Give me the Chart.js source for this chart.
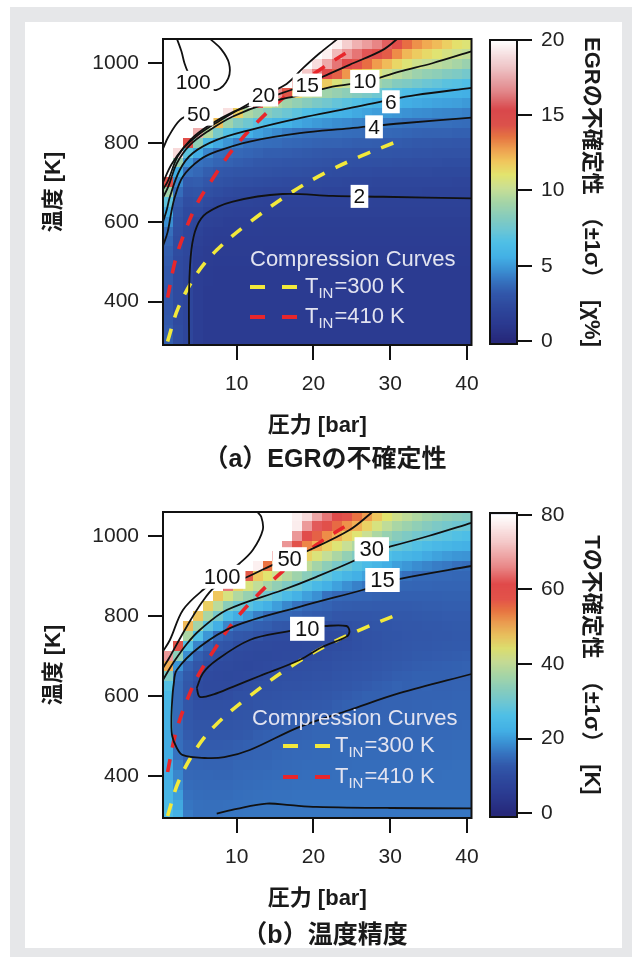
<!DOCTYPE html>
<html><head><meta charset="utf-8">
<script src="https://cdn.jsdelivr.net/npm/chart.js@4/dist/chart.umd.min.js"></script>
<style>
html,body{margin:0;padding:0;background:#fff;}
#page{position:relative;width:638px;height:961px;overflow:hidden;background:#fff;}
#frame{position:absolute;left:10px;top:7px;width:622px;height:950px;background:#e6e7e9;}
#inner{position:absolute;left:25px;top:22px;width:597px;height:926px;background:#fff;}
canvas{position:absolute;}
.cap{position:absolute;font-family:"Liberation Sans","Noto Sans CJK JP",sans-serif;font-weight:bold;font-size:25px;color:#1a1a1a;white-space:nowrap;transform:translate(-50%,-50%);line-height:1;}
</style></head>
<body><div id="page"><div id="frame"></div><div id="inner"></div>
<canvas id="mainA" width="638" height="470" style="left:0;top:0"></canvas>
<canvas id="barA" width="168" height="470" style="left:470px;top:0"></canvas>
<canvas id="mainB" width="638" height="470" style="left:0;top:473px"></canvas>
<canvas id="barB" width="168" height="470" style="left:470px;top:473px"></canvas>
<div class="cap" style="left:325px;top:458px">（a）EGRの不確定性</div>
<div class="cap" style="left:325px;top:934px">（b）温度精度</div>
</div>
<script>
// ---------------- DATA ----------------
// pressure column centres [bar]
const pressureCenters = [1.05,2.35,3.64,4.94,6.24,7.53,8.83,10.13,11.42,12.72,14.02,15.31,16.61,17.91,19.2,20.5,21.8,23.09,24.39,25.69,26.98,28.28,29.58,30.87,32.17,33.47,34.76,36.06,37.36,38.65,39.95];
// temperature row centres [K], top to bottom
const tempCenters = [1049,1024,999,974,949,924,900,875,850,825,800,775,750,726,701,676,651,626,601,577,552,527,502,477,452,428,403,378,353,328,303];
const pressureTicks = [10,20,30,40];
const tempTicks = [400,600,800,1000];
const egrBarTicks = [0,5,10,15,20];
const tempBarTicks = [0,20,40,60,80];

// EGR uncertainty (±1σ) [χ%], one list per pressure column, rows top->bottom
const egrUncertainty = [
[25,25,25,25,25,25,25,25,25,25,25,25,25,25,14.7,9.1,7.0,5.5,4.7,3.9,3.6,3.4,3.3,3.2,3.2,3.1,3.1,3.1,3.2,3.3,3.4],
[25,25,25,25,25,25,25,25,25,25,25,18.8,8.9,5.5,4.6,3.8,3.3,3.0,2.8,2.6,2.5,2.5,2.4,2.4,2.4,2.4,2.4,2.4,2.4,2.5,2.5],
[25,25,25,25,25,25,25,25,25,25,15,7.0,5.0,3.9,3.3,2.9,2.6,2.4,2.3,2.2,2.2,2.2,2.1,2.1,2.1,2.1,2.1,2.1,2.1,2.1,2.1],
[25,25,25,25,25,25,25,25,25,17.5,8.6,5.5,4.0,3.7,3.35,3.0,2.7,2.4,2.1,1.9,1.7,1.6,1.5,1.5,1.5,1.5,1.5,1.5,1.5,1.5,1.5],
[25,25,25,25,25,25,25,25,25,9.6,6.3,4.5,3.8,3.4,3.1,2.7,2.4,2.0,1.8,1.6,1.5,1.4,1.4,1.35,1.35,1.3,1.3,1.3,1.3,1.3,1.3],
[25,25,25,25,25,25,25,25,12.1,7.8,5.4,3.9,3.6,3.2,2.9,2.55,2.2,1.9,1.7,1.5,1.45,1.4,1.35,1.3,1.3,1.3,1.3,1.3,1.3,1.3,1.3],
[25,25,25,25,25,25,25,19,9.1,6.7,4.9,3.8,3.5,3.1,2.8,2.4,2.05,1.8,1.6,1.5,1.45,1.4,1.35,1.3,1.3,1.3,1.3,1.3,1.3,1.3,1.3],
[25,25,25,25,25,25,25,11.7,8.1,6.0,4.3,3.7,3.4,3.0,2.65,2.3,1.95,1.75,1.6,1.5,1.45,1.4,1.35,1.3,1.3,1.3,1.3,1.3,1.3,1.3,1.3],
[25,25,25,25,25,25,25,9.5,7.5,5.6,4.0,3.6,3.3,2.95,2.6,2.25,1.95,1.75,1.6,1.5,1.45,1.4,1.35,1.3,1.3,1.3,1.3,1.3,1.3,1.3,1.3],
[25,25,25,25,25,25,15,8.9,6.9,5.2,3.9,3.5,3.2,2.9,2.55,2.2,1.9,1.72,1.58,1.5,1.45,1.4,1.35,1.3,1.3,1.3,1.3,1.3,1.3,1.3,1.3],
[25,25,25,25,25,25,10.5,8.3,6.4,4.9,3.85,3.4,3.15,2.85,2.5,2.15,1.85,1.7,1.55,1.48,1.42,1.38,1.34,1.3,1.3,1.3,1.3,1.3,1.3,1.3,1.3],
[25,25,25,25,25,16.8,9.6,7.8,6.0,4.6,3.8,3.4,3.1,2.8,2.45,2.1,1.85,1.7,1.55,1.48,1.42,1.38,1.34,1.3,1.3,1.3,1.3,1.3,1.3,1.3,1.3],
[25,25,25,25,20,14.3,9.1,7.4,5.7,4.3,3.7,3.35,3.05,2.75,2.4,2.1,1.85,1.7,1.55,1.48,1.42,1.38,1.34,1.3,1.3,1.3,1.3,1.3,1.3,1.3,1.3],
[25,25,25,25,17.1,11.6,8.7,7.0,5.4,4.1,3.65,3.3,3.0,2.7,2.4,2.1,1.85,1.7,1.55,1.48,1.42,1.38,1.34,1.3,1.3,1.3,1.3,1.3,1.3,1.3,1.3],
[25,25,25,18.2,15.4,9.9,8.3,6.6,5.2,4.0,3.6,3.25,2.95,2.65,2.35,2.05,1.85,1.7,1.55,1.48,1.42,1.38,1.34,1.3,1.3,1.3,1.3,1.3,1.3,1.3,1.3],
[25,25,18.9,16.5,13.3,9.5,7.9,6.3,5.0,3.95,3.55,3.2,2.9,2.6,2.3,2.05,1.85,1.7,1.55,1.48,1.42,1.38,1.34,1.3,1.3,1.3,1.3,1.3,1.3,1.3,1.3],
[25,19.5,17.4,15.3,11.8,9.1,7.6,6.0,4.85,3.9,3.5,3.15,2.85,2.55,2.25,2.0,1.85,1.7,1.55,1.48,1.42,1.38,1.34,1.3,1.3,1.3,1.3,1.3,1.3,1.3,1.3],
[19.5,17.8,16.2,14.1,10.8,8.8,7.2,5.75,4.7,3.9,3.5,3.1,2.8,2.5,2.25,2.0,1.85,1.7,1.55,1.48,1.42,1.38,1.34,1.3,1.3,1.3,1.3,1.3,1.3,1.3,1.3],
[18.4,16.9,15.4,13.0,10.1,8.5,6.9,5.6,4.6,3.85,3.45,3.1,2.8,2.5,2.2,2.0,1.85,1.7,1.55,1.48,1.42,1.38,1.34,1.3,1.3,1.3,1.3,1.3,1.3,1.3,1.3],
[17.6,16.2,14.6,12.2,9.9,8.2,6.65,5.4,4.45,3.8,3.4,3.05,2.75,2.45,2.2,2.0,1.85,1.7,1.55,1.48,1.42,1.38,1.34,1.3,1.3,1.3,1.3,1.3,1.3,1.3,1.3],
[17.1,15.6,13.8,11.6,9.6,7.9,6.3,5.25,4.35,3.75,3.4,3.05,2.75,2.45,2.2,2.0,1.85,1.7,1.55,1.48,1.42,1.38,1.34,1.3,1.3,1.3,1.3,1.3,1.3,1.3,1.3],
[16.5,15.0,12.9,10.9,9.1,7.5,6.0,5.1,4.3,3.7,3.35,3.0,2.7,2.4,2.15,1.95,1.82,1.7,1.55,1.48,1.42,1.38,1.34,1.3,1.3,1.3,1.3,1.3,1.3,1.3,1.3],
[15.8,14.2,12.2,10.3,8.7,7.1,5.8,5.0,4.15,3.7,3.3,3.0,2.7,2.4,2.15,1.95,1.82,1.7,1.55,1.48,1.42,1.38,1.34,1.3,1.3,1.3,1.3,1.3,1.3,1.3,1.3],
[15.0,13.2,11.5,9.8,8.2,6.8,5.65,4.9,4.1,3.65,3.3,2.95,2.65,2.35,2.15,1.95,1.82,1.7,1.55,1.48,1.42,1.38,1.34,1.3,1.3,1.3,1.3,1.3,1.3,1.3,1.3],
[13.8,12.3,10.9,9.4,8.0,6.5,5.55,4.8,4.0,3.6,3.25,2.95,2.65,2.35,2.1,1.95,1.82,1.7,1.55,1.48,1.42,1.38,1.34,1.3,1.3,1.3,1.3,1.3,1.3,1.3,1.3],
[13.1,11.8,10.4,9.0,7.7,6.3,5.45,4.7,3.95,3.55,3.2,2.9,2.6,2.35,2.1,1.95,1.82,1.7,1.55,1.48,1.42,1.38,1.34,1.3,1.3,1.3,1.3,1.3,1.3,1.3,1.3],
[12.6,11.4,10.1,8.7,7.4,6.0,5.35,4.65,3.95,3.5,3.2,2.9,2.6,2.35,2.1,1.9,1.8,1.7,1.55,1.48,1.42,1.38,1.34,1.3,1.3,1.3,1.3,1.3,1.3,1.3,1.3],
[12.2,11.0,9.85,8.5,7.2,5.9,5.25,4.55,3.9,3.5,3.15,2.85,2.6,2.3,2.1,1.9,1.8,1.7,1.55,1.48,1.42,1.38,1.34,1.3,1.3,1.3,1.3,1.3,1.3,1.3,1.3],
[11.7,10.6,9.6,8.2,6.9,5.8,5.2,4.5,3.9,3.5,3.15,2.85,2.55,2.3,2.1,1.9,1.8,1.7,1.55,1.48,1.42,1.38,1.34,1.3,1.3,1.3,1.3,1.3,1.3,1.3,1.3],
[11.2,10.3,9.3,8.0,6.8,5.7,5.15,4.45,3.85,3.45,3.1,2.85,2.55,2.3,2.05,1.9,1.8,1.7,1.55,1.48,1.42,1.38,1.34,1.3,1.3,1.3,1.3,1.3,1.3,1.3,1.3],
[10.9,10.0,8.9,7.7,6.6,5.6,5.0,4.35,3.8,3.45,3.1,2.85,2.55,2.3,2.05,1.9,1.8,1.7,1.55,1.48,1.42,1.38,1.34,1.3,1.3,1.3,1.3,1.3,1.3,1.3,1.3]
];

// Temperature uncertainty (±1σ) [K], one list per pressure column, rows top->bottom
const tempUncertainty = [
[90,90,90,90,90,90,90,90,90,90,90,90,90,90,68,50,32,27,25,24,23,23,22,22,22,22,22,23,24,25,26],
[90,90,90,90,90,90,90,90,90,90,90,90,90,58,34,19.5,15.5,15,15,15,15,15,15.2,15.5,16,17,18,19,20.5,21.5,23],
[90,90,90,90,90,90,90,90,90,90,90,49,37.6,27,18.7,14.2,13,12.5,12.3,12.3,12.5,12.8,13.2,13.8,14.2,14.4,14.8,15.3,15.8,16.3,17],
[90,90,90,90,90,90,90,90,90,90,47.8,36.7,26.8,17.9,13.8,12.3,11,9.9,10.2,11,11.5,12,12.5,13.2,13.8,14.3,14.7,15,15.4,15.7,16],
[90,90,90,90,90,90,90,90,90,46.7,37.4,28.2,19.6,14.2,12,10.5,9.6,9.4,9.9,10.8,11.4,12,12.5,13.2,13.8,14.2,14.6,14.9,15.3,15.6,16],
[90,90,90,90,90,90,90,90,47.7,39.3,31,22.5,14.8,12.5,10.8,9.6,9.3,9.4,9.9,10.8,11.4,12,12.5,13.2,13.8,14.2,14.5,14.9,15.2,15.6,16],
[90,90,90,90,90,90,90,65,42.7,33.6,25.5,18,13.6,11.8,9.9,9.4,9.2,9.5,10.3,11,11.5,12,12.6,13.3,13.8,14.2,14.5,14.9,15.3,15.7,16.3],
[90,90,90,90,90,90,90,46.7,38.3,30,22.2,14.8,12.8,10.1,9.5,9.2,9.3,10,10.8,11.3,11.8,12.3,12.8,13.6,14,14.5,14.8,15.1,15.5,15.9,16.4],
[90,90,90,90,90,90,57,43,35.3,27.6,19.9,14.5,12.3,9.7,9.3,9.1,9.5,10.5,11,11.5,12,12.5,13,13.8,14.1,14.5,14.9,15.2,15.6,16,16.5],
[90,90,90,90,90,78,47.6,40,32.4,24.9,17.4,13.8,11.5,9.5,9.2,9.3,10,10.8,11.3,11.8,12.3,12.8,13.5,14,14.3,14.7,15,15.4,15.7,16.2,16.5],
[90,90,90,90,90,54.8,44.3,37.1,30,22.6,15.3,13.5,10,9.4,9.2,9.6,10.5,11,11.5,12,12.5,13,13.8,14.1,14.3,14.7,15.1,15.5,15.8,16.3,16.5],
[90,90,90,90,63.4,47.8,41.4,34.6,27.7,20.5,14.6,12.8,9.8,9.3,9.3,9.9,10.7,11.2,11.7,12.2,12.7,13.3,14.1,14.2,14.6,14.9,15.2,15.6,15.9,16.3,16.5],
[90,90,90,67.6,52.9,44.9,38.7,32.3,25.4,18.2,14.6,12.5,9.7,9.3,9.5,10.3,10.9,11.4,11.9,12.4,13,13.7,14.1,14.5,14.8,15,15.4,15.6,15.9,16.3,16.5],
[78,77.6,67.8,57.9,48.7,42.3,36.2,29.7,22.9,16.1,14.2,12.3,9.6,9.3,9.6,10.5,11,11.5,12,12.6,13.2,14,14.2,14.5,14.9,15.1,15.4,15.7,16,16.3,16.5],
[75.3,68,60.6,53.2,46.4,39.9,33.6,27.2,20.7,14.8,13.5,12,9.6,9.4,9.8,10.6,11.1,11.6,12.1,12.7,13.4,13.9,14.3,14.6,14.9,15.2,15.5,15.7,16,16.3,16.5],
[69.3,62.8,56.3,49.7,43.3,36.9,30.8,24.8,19,14.5,13.2,11.8,9.6,9.5,10.1,10.8,11.3,11.8,12.3,12.9,13.6,14.1,14.5,14.8,15,15.3,15.5,15.8,16,16.3,16.5],
[65,58.9,52.7,46.5,40.3,34,28.2,22.6,16,14.2,13,10.2,9.6,9.9,10.5,11,11.5,12,12.5,13.1,13.8,14.2,14.5,14.8,15,15.3,15.5,15.8,16,16.3,16.5],
[61.3,55.5,49.8,43.7,37.6,31.5,26.1,20.8,14.8,13.6,12.4,10.6,9.7,10.1,10.8,11.3,11.8,12.3,12.9,13.6,14,14.3,14.6,14.9,15.1,15.3,15.6,15.8,16,16.3,16.5],
[57.9,52.4,46.7,40.7,34.8,29,24.1,19,14.5,13.4,12.3,11,9.9,10.5,11.1,11.6,12.1,12.6,13.2,13.9,14.1,14.4,14.6,14.9,15.1,15.3,15.6,15.8,16,16.3,16.5],
[54.8,49.8,44,38.1,32.3,27.1,22.4,17.5,14.4,13.3,12.3,11.4,10.8,11,11.4,11.9,12.4,12.9,13.6,14,14.2,14.5,14.7,14.9,15.1,15.4,15.6,15.8,16,16.2,16.4],
[51.5,46.4,40.9,35.3,29.8,25.2,20.9,16.3,14.3,13.3,12.4,11.7,11.3,11.4,11.7,12.1,12.6,13.2,13.9,14,14.2,14.5,14.7,14.9,15.1,15.4,15.6,15.8,16,16.2,16.4],
[47.8,42.8,37.8,32.8,28.1,23.6,19.4,15,14,13.2,12.5,12,11.7,11.7,12,12.4,12.9,13.5,13.9,14,14.3,14.5,14.7,14.9,15.1,15.4,15.6,15.8,16,16.2,16.4],
[44.4,39.8,35.3,30.7,26.4,22.2,18.1,14.8,13.9,13.2,12.6,12.2,12,12,12.3,12.7,13.2,13.8,14,14.1,14.3,14.5,14.7,14.9,15.1,15.4,15.6,15.8,16,16.2,16.4],
[41.6,37.4,33.3,29.2,24.9,20.7,16.7,14.6,13.8,13.2,12.7,12.4,12.2,12.3,12.6,13,13.5,14.1,14.2,14.1,14.4,14.5,14.7,14.9,15.1,15.4,15.6,15.8,16,16.2,16.4],
[39.8,35.9,32,28,23.8,19.7,15.7,14.5,13.8,13.2,12.8,12.5,12.4,12.5,12.8,13.2,13.7,13.9,14,14.2,14.4,14.6,14.8,15,15.1,15.4,15.6,15.8,16,16.2,16.4],
[38.1,34.4,30.7,26.8,22.8,18.7,14.9,14.4,13.8,13.3,12.9,12.6,12.5,12.7,13,13.4,13.9,14,14.1,14.3,14.5,14.6,14.8,15,15.2,15.4,15.6,15.8,16,16.2,16.4],
[36.5,33,29.5,25.7,21.8,17.9,14.9,14.4,13.8,13.4,13,12.7,12.6,12.8,13.1,13.6,13.9,14.3,14.1,14.3,14.5,14.7,14.9,15,15.2,15.4,15.6,15.8,16,16.2,16.4],
[35.3,31.8,28.4,24.6,20.9,17.1,14.8,14.3,13.8,13.4,13.1,12.8,12.7,12.9,13.2,13.7,13.9,14,14.2,14.4,14.5,14.7,14.9,15.1,15.3,15.5,15.6,15.8,16,16.2,16.4],
[34.2,30.8,27.6,23.9,20.2,16.6,14.8,14.3,13.9,13.5,13.2,12.9,12.8,13,13.3,13.8,13.9,14,14.2,14.4,14.6,14.7,14.9,15.1,15.3,15.5,15.7,15.8,16,16.2,16.4],
[33.4,29.9,26.7,23.1,19.6,15.7,14.7,14.3,13.9,13.5,13.2,13,12.9,13.1,13.4,13.9,14,14.1,14.3,14.5,14.6,14.8,15,15.2,15.4,15.6,15.7,15.8,16,16.2,16.4],
[32.5,29.2,26.2,22.7,19.4,15.4,14.7,14.3,13.9,13.5,13.2,13,12.9,13.1,13.5,14,14,14.1,14.3,14.5,14.7,14.9,15,15.2,15.4,15.6,15.7,15.8,16,16.2,16.4]
];

// contour lines: [pressure bar, temperature K]
const egrContour2 = [[3.8,291],[3.8,430],[4.1,531],[4.8,589],[6.1,623],[9.5,652],[16,671],[22.5,666],[29,664],[40.6,660]];
const egrContour4 = [[0.4,540],[1.0,575],[1.5,627],[1.95,664],[3.0,715],[5.2,757],[7.4,778],[11.7,803],[18.2,824],[24.7,836],[31.6,849],[40.6,863]];
const egrContour6 = [[0.4,600],[0.9,632],[1.3,664],[2.6,732],[4.3,774],[7.4,807],[11.7,832],[18.2,862],[24.7,887],[29.9,908],[33.3,920],[40.6,938]];
const egrContour10 = [[0.4,662],[1.1,690],[2.2,748],[3.9,794],[6.5,832],[9.5,866],[13.9,899],[18.2,920],[22.5,941],[26.8,954],[31.2,979],[35.5,1000],[40.6,1030]];
const egrContour15 = [[0.4,683],[1.0,702],[2.3,765],[4,808],[6.5,845],[9.5,877],[12,895],[14,912],[17,932],[19,945],[21.2,966],[24.7,996],[29,1033],[31,1062]];
const egrContour20 = [[0.4,700],[1.5,745],[3,785],[5,820],[7.6,853],[11.3,895],[13.6,920],[16.5,948],[18.6,987],[20.8,1025],[23.2,1062]];
const egrContour50 = [[0.4,785],[1.1,815],[2.6,857],[4.3,874],[5.5,878]];
const egrContour100a = [[2.2,1062],[2.8,1030],[3.2,1000],[3.7,975],[4.3,952]];
const egrContour100b = [[5.6,942],[7.4,933],[8.9,962],[9.0,1000],[8.0,1035],[6.5,1062]];

const tempContour10 = [[4.8,620],[5.6,657],[7.4,690],[11.7,740],[16.5,761],[19,768],[21.6,775],[24.3,775],[24.7,762],[24.3,748],[21.2,723],[18.2,690],[13,650],[9.5,623],[7,604],[5.2,598],[4.8,620]];
const tempContour15 = [[40.6,925],[31.6,894],[29,880],[26.4,865],[18.2,823],[9.5,773],[5.2,723],[2.2,665],[1.8,630],[1.6,590],[1.5,540],[1.6,500],[2.2,470],[3.0,452],[5.8,445],[8.4,447],[11.7,465],[18.2,523],[24.7,565],[31.2,607],[40.6,655]];
const tempContour20 = [[7.4,306],[10,318],[13.9,331],[17,327],[20.4,323],[30,320],[40.6,319]];
const tempContour30 = [[0.4,640],[1.0,660],[1.7,682],[3.5,730],[5.2,765],[8.7,815],[16,865],[20.4,898],[25.5,940],[27.6,962],[29.9,973],[35,1000],[40.6,1033]];
const tempContour50 = [[0.4,670],[1.2,695],[2.5,740],[4,790],[5.5,835],[7,870],[8.5,885],[10.4,890],[14.7,928],[16.9,944],[19.5,965],[24.7,1015],[27.5,1057],[27.8,1062]];
const tempContour100 = [[0.4,712],[1.3,740],[3.0,815],[5.6,865],[8.1,898],[10.4,932],[12.1,965],[13.4,1015],[13.2,1048],[12.6,1062]];

// contour labels: [text, pressure, temperature]
const egrLabels = [["100",4.33,952],["50",5.06,872],["20",13.5,920],["15",19.2,945],["10",26.7,954],["6",30.1,903],["4",27.9,840],["2",26,665]];
const tempLabels = [["100",8.1,898],["50",16.9,942],["30",27.6,967],["15",29,890],["10",19.2,768]];

// compression curves
const comp300P = [1.0,2.4,4.8,7.4,11.7,16.9,21.6,26.4,30.5];
const comp300T = [300,385,470,530,600,672,725,768,800];
const comp410P = [1.0,1.95,3.0,4.8,7.1,9.5,12.6,16.2,20.4,25];
const comp410T = [410,500,563,645,716,783,850,915,978,1035];

// ---------------- DRAWING ----------------
const FONT = '"Liberation Sans", "Noto Sans CJK JP", sans-serif';
Chart.defaults.font.family = FONT;
Chart.defaults.color = '#1e1e1e';

const CMAP = [[0,'#27297a'],[0.06,'#2b3a90'],[0.11,'#2e479c'],[0.16,'#3258aa'],[0.20,'#3672bf'],[0.24,'#3b92d4'],[0.28,'#43b0e5'],[0.33,'#4fbfe6'],[0.37,'#6cc6d4'],[0.41,'#84cbbf'],[0.46,'#a3d4a8'],[0.51,'#c9df94'],[0.555,'#e3e46e'],[0.60,'#f0c45c'],[0.64,'#f1a14f'],[0.68,'#ea7641'],[0.72,'#e2534a'],[0.77,'#e04a4a'],[0.83,'#e98a8a'],[0.91,'#f4c8c8'],[1,'#ffffff']];
const CM = CMAP.map(([t,h])=>[t,parseInt(h.slice(1,3),16),parseInt(h.slice(3,5),16),parseInt(h.slice(5,7),16)]);
function cmap(t){
  if(!(t>0)) t=0; if(t>1) t=1;
  for(let k=0;k<CM.length-1;k++){
    const a=CM[k], b=CM[k+1];
    if(t<=b[0]){ const f=(t-a[0])/(b[0]-a[0]);
      return `rgb(${Math.round(a[1]+(b[1]-a[1])*f)},${Math.round(a[2]+(b[2]-a[2])*f)},${Math.round(a[3]+(b[3]-a[3])*f)})`; }
  }
  return '#ffffff';
}
function edges(c){
  const e=[c[0]-(c[1]-c[0])/2];
  for(let k=0;k<c.length-1;k++) e.push((c[k]+c[k+1])/2);
  e.push(c[c.length-1]+(c[c.length-1]-c[c.length-2])/2);
  return e;
}
function heatPlugin(grid, vmax){
  return {id:'heat', beforeDatasetsDraw(chart){
    const {ctx, chartArea:a, scales:{x,y}} = chart;
    const pe=edges(pressureCenters), te=edges(tempCenters);
    ctx.save(); ctx.beginPath(); ctx.rect(a.left,a.top,a.width,a.height); ctx.clip();
    for(let i=0;i<grid.length;i++){
      const x0=Math.round(x.getPixelForValue(pe[i])), x1=Math.round(x.getPixelForValue(pe[i+1]));
      for(let j=0;j<grid[i].length;j++){
        const y0=Math.round(y.getPixelForValue(te[j])), y1=Math.round(y.getPixelForValue(te[j+1]));
        ctx.fillStyle=cmap(grid[i][j]/vmax);
        ctx.fillRect(x0,Math.min(y0,y1),x1-x0,Math.abs(y1-y0));
      }
    }
    ctx.restore();
  }};
}
function overlayPlugin(o){
  return {id:'overlay', afterDatasetsDraw(chart){
    const {ctx, chartArea:a, scales:{x,y}} = chart;
    ctx.save();
    ctx.beginPath(); ctx.rect(a.left,a.top,a.width,a.height); ctx.clip();
    ctx.font = `${o.labelSize}px ${FONT}`; ctx.textAlign='center'; ctx.textBaseline='middle';
    o.labels.forEach(([txt,p,t])=>{
      const cx=x.getPixelForValue(p), cy=y.getPixelForValue(t);
      const w=ctx.measureText(txt).width+o.labelPadX*2, h=o.labelSize+2;
      ctx.fillStyle='#ffffff'; ctx.fillRect(cx-w/2,cy-h/2,w,h);
      ctx.fillStyle='#111111'; ctx.fillText(txt,cx,cy+1);
    });
    const L=o.legend;
    ctx.fillStyle='#e2e3f0'; ctx.textAlign='left'; ctx.textBaseline='middle';
    ctx.font=`22px ${FONT}`;
    ctx.fillText('Compression Curves', a.left+L.titleDx, a.top+L.titleDy);
    [['#f2e93b','=300 K'],['#e8262b','=410 K']].forEach(([col,txt],k)=>{
      const yy=a.top+L.rowDy[k], xx=a.left+L.sampleDx;
      ctx.strokeStyle=col; ctx.lineWidth=4; ctx.lineCap='butt';
      ctx.beginPath(); ctx.moveTo(xx,yy); ctx.lineTo(xx+15,yy); ctx.moveTo(xx+32,yy); ctx.lineTo(xx+47,yy); ctx.stroke();
      let tx=a.left+L.textDx;
      ctx.fillStyle='#e2e3f0';
      ctx.font=`22px ${FONT}`; ctx.fillText('T',tx,yy); tx+=ctx.measureText('T').width;
      ctx.font=`15px ${FONT}`; ctx.fillText('IN',tx,yy+7); tx+=ctx.measureText('IN').width+1;
      ctx.font=`22px ${FONT}`; ctx.fillText(txt,tx,yy);
    });
    ctx.restore();
    ctx.save(); ctx.strokeStyle='#111'; ctx.lineWidth=2;
    ctx.strokeRect(a.left,a.top,a.width,a.height); ctx.restore();
  }};
}
function colorbarPlugin(vmax){
  return {id:'cbar', beforeDatasetsDraw(chart){
    const {ctx, chartArea:a, scales:{y}} = chart;
    ctx.save(); ctx.beginPath(); ctx.rect(a.left,a.top,a.width,a.height); ctx.clip();
    ctx.fillStyle=cmap(0); ctx.fillRect(a.left,a.top,a.width,a.height);
    const N=300;
    for(let k=0;k<N;k++){
      const v0=k/N*vmax, v1=(k+1)/N*vmax;
      const y0=y.getPixelForValue(v0), y1=y.getPixelForValue(v1);
      ctx.fillStyle=cmap((v0+v1)/2/vmax);
      ctx.fillRect(a.left,y1,a.width,y0-y1+0.6);
    }
    const yt=y.getPixelForValue(vmax);
    ctx.fillStyle='#ffffff'; ctx.fillRect(a.left,a.top,a.width,yt-a.top);
    ctx.restore();
    ctx.save(); ctx.strokeStyle='#111'; ctx.lineWidth=2; ctx.strokeRect(a.left,a.top,a.width,a.height); ctx.restore();
  }};
}
const lineDs = (pts)=>({data:pts.map(([p,t])=>({x:p,y:t})), showLine:true, borderColor:'#111', borderWidth:1.8, pointRadius:0, tension:0.35, fill:false});
const compDs = (P,T,col)=>({data:P.map((p,i)=>({x:p,y:T[i]})), showLine:true, borderColor:col, borderWidth:3.6, borderDash:[13,12], borderCapStyle:'butt', pointRadius:0, tension:0.35, fill:false});
const tickGrid = {drawOnChartArea:false, drawTicks:true, tickLength:15, lineWidth:2, color:'#111'};

function buildPanel(o){
  new Chart(document.getElementById(o.mainId), {
    type:'scatter',
    data:{datasets:[...o.contours.map(lineDs), compDs(comp300P,comp300T,'#f2e93b'), compDs(comp410P,comp410T,'#e8262b')]},
    options:{
      responsive:false, animation:false, devicePixelRatio:1, events:[],
      layout:{padding:{left:0,right:166.5,top:39,bottom:0}},
      plugins:{legend:{display:false}, tooltip:{enabled:false}},
      scales:{
        x:{type:'linear', min:0.4, max:40.6,
          afterBuildTicks:s=>{s.ticks=pressureTicks.map(v=>({value:v}));},
          afterFit:s=>{s.height=125;},
          grid:tickGrid, border:{display:false},
          ticks:{padding:12, font:{size:21}, color:'#222', autoSkip:false, maxRotation:0, callback:v=>String(v)},
          title:{display:true, text:'圧力 [bar]', font:{size:22, weight:'bold'}, color:'#1a1a1a', padding:{top:0,bottom:31}}},
        y:{type:'linear', min:o.tMin, max:o.tMax,
          afterBuildTicks:s=>{s.ticks=tempTicks.map(v=>({value:v}));},
          afterFit:s=>{s.width=163;},
          grid:tickGrid, border:{display:false},
          ticks:{padding:9, font:{size:21}, color:'#222', autoSkip:false, callback:v=>String(v)},
          title:{display:true, text:'温度 [K]', font:{size:22, weight:'bold'}, color:'#1a1a1a', padding:{top:41,bottom:0}}}
      }
    },
    plugins:[heatPlugin(o.grid,o.vmax), overlayPlugin(o)]
  });
  new Chart(document.getElementById(o.barId), {
    type:'scatter', data:{datasets:[]},
    options:{
      responsive:false, animation:false, devicePixelRatio:1, events:[],
      layout:{padding:{left:20,right:0,top:40,bottom:126}},
      plugins:{legend:{display:false}, tooltip:{enabled:false}},
      scales:{
        x:{display:false, min:0, max:1},
        y:{position:'right', min:o.cbMin, max:o.cbMax,
          afterBuildTicks:s=>{s.ticks=o.cbTicks.map(v=>({value:v}));},
          afterFit:s=>{s.width=121;},
          grid:tickGrid, border:{display:false},
          ticks:{padding:9, font:{size:21}, color:'#222', autoSkip:false, callback:v=>String(v)},
          title:{display:true, text:o.cbTitle, font:{size:22, weight:'bold'}, color:'#1a1a1a', padding:{top:34,bottom:0}}}
      }
    },
    plugins:[colorbarPlugin(o.vmax)]
  });
}

buildPanel({mainId:'mainA', barId:'barA', tMin:291, tMax:1061, grid:egrUncertainty, vmax:20,
  contours:[egrContour2,egrContour4,egrContour6,egrContour10,egrContour15,egrContour20,egrContour50,egrContour100a,egrContour100b],
  labels:egrLabels, labelSize:21, labelPadX:3,
  legend:{titleDx:87,titleDy:221,sampleDx:87,rowDy:[248,278],textDx:142},
  cbMin:-0.2, cbMax:20, cbTicks:egrBarTicks, cbTitle:'EGRの不確定性\u3000（±1σ）\u3000[χ%]'});
buildPanel({mainId:'mainB', barId:'barB', tMin:295, tMax:1060, grid:tempUncertainty, vmax:80,
  contours:[tempContour10,tempContour15,tempContour20,tempContour30,tempContour50,tempContour100],
  labels:tempLabels, labelSize:22, labelPadX:5,
  legend:{titleDx:89,titleDy:207,sampleDx:120,rowDy:[234,265],textDx:172},
  cbMin:-1, cbMax:80.5, cbTicks:tempBarTicks, cbTitle:'Tの不確定性\u3000（±1σ）\u3000[K]'});
</script>
</body></html>
